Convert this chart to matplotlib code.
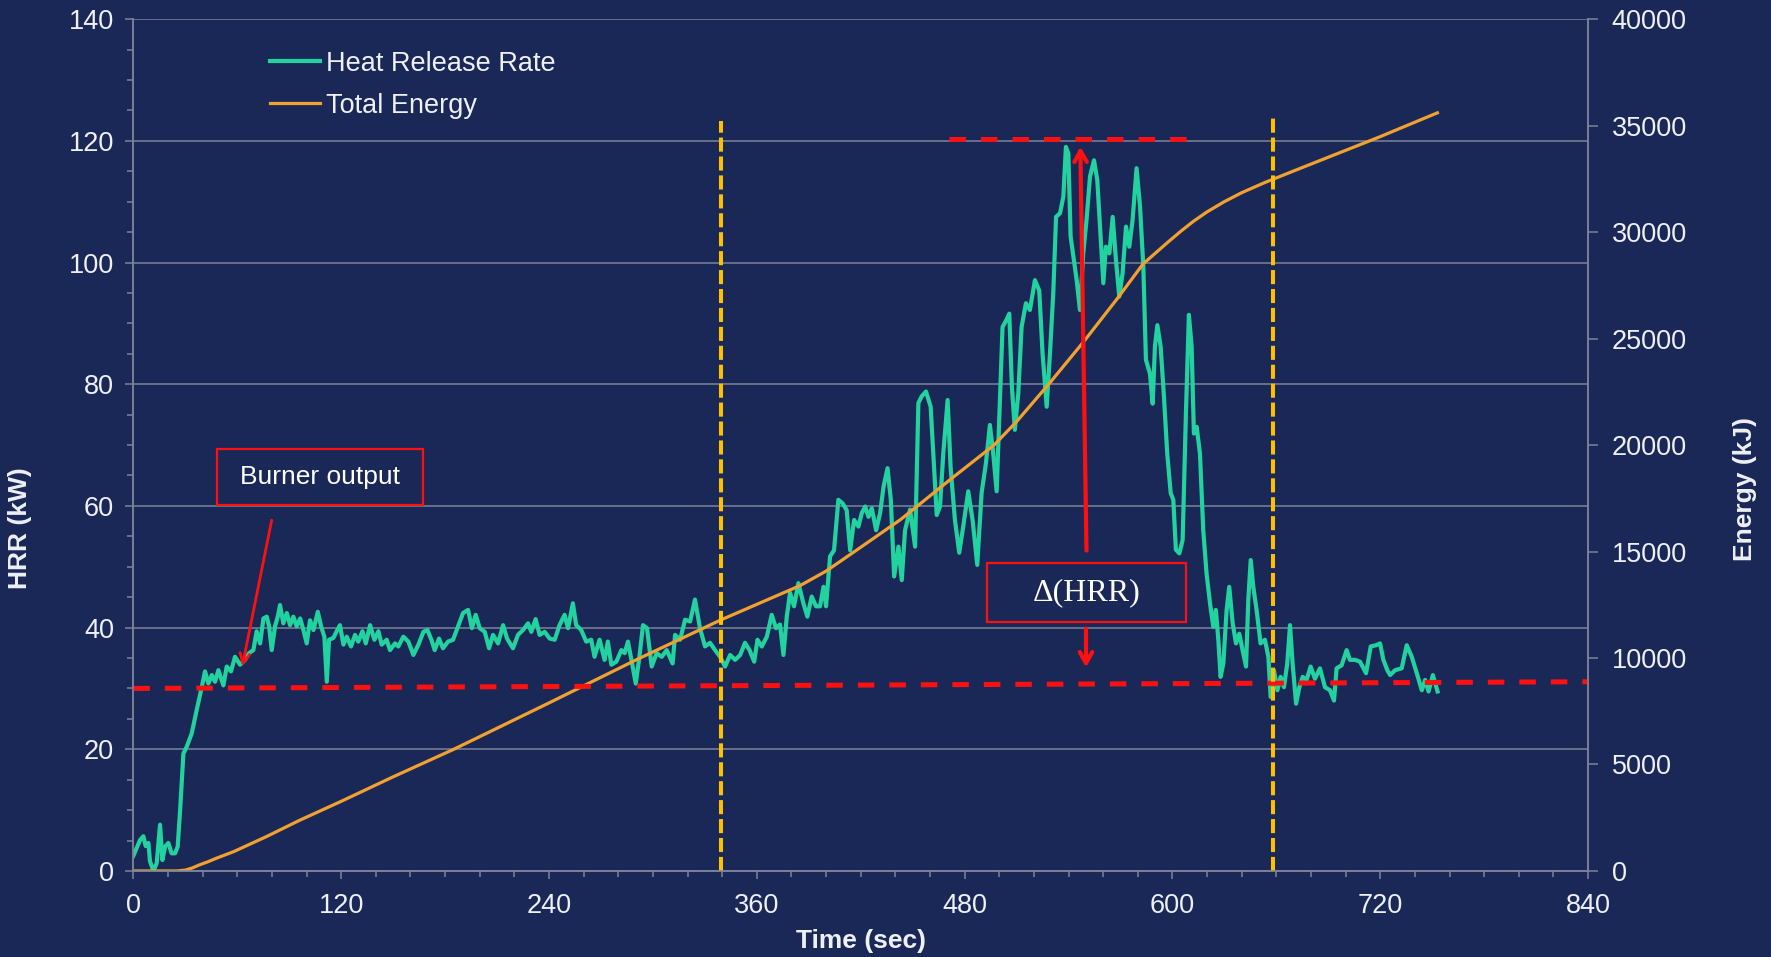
import numpy as np
import matplotlib.pyplot as plt
from matplotlib.patches import Rectangle

# ===== DATA =====

# heat release rate (kW) vs time (s)
hrr_t = [0, 3.9, 5.8, 7.1, 8.7, 9.6, 11.6, 13.5, 15.4, 16.8, 18.3, 20.2, 22.1, 24.1, 25.6,
         27.0, 28.9, 30.8, 33.7, 36.6, 39.1, 41.4, 43.3, 45.3, 47.2, 49.1, 52.0, 53.9, 56.4,
         58.7, 61.6, 64.5, 66.8, 69.3, 71.2, 73.2, 75.1, 77.0, 78.4, 79.9, 81.8, 83.4, 84.7,
         86.6, 88.6, 90.5, 92.4, 94.3, 96.3, 98.2, 100.1, 102.0, 104.0, 106.5, 108.4, 110.3,
         111.7, 113.0, 115.5, 117.4, 119.3, 121.3, 123.2, 125.7, 128.0, 129.9, 132.3, 134.2,
         136.7, 139.2, 141.5, 143.4, 146.3, 148.2, 151.1, 153.0, 155.9, 158.8, 161.7, 164.6,
         167.5, 169.8, 172.1, 174.0, 176.5, 178.8, 181.7, 184.6, 187.5, 190.4, 193.3, 195.5,
         197.7, 200.0, 202.9, 205.4, 207.7, 210.6, 213.5, 215.8, 219.2, 222.1, 225.0, 227.9,
         229.8, 232.3, 234.6, 237.5, 240.4, 243.3, 246.1, 249.0, 251.0, 253.8, 255.7, 258.6,
         261.5, 264.4, 266.3, 269.2, 272.1, 274.0, 276.0, 278.9, 281.8, 283.7, 285.6, 287.6,
         290.1, 292.0, 294.3, 296.6, 299.3, 302.2, 305.1, 308.0, 311.4, 312.8, 315.7, 318.6,
         321.5, 324.3, 327.2, 330.1, 333.0, 335.9, 338.8, 341.7, 344.6, 347.5, 350.4, 353.2,
         355.8, 358.5, 360.4, 362.9, 365.8, 368.6, 371.1, 373.4, 375.4, 377.3, 379.2, 381.5,
         384.0, 386.9, 389.2, 391.7, 394.2, 396.5, 398.5, 400.0, 402.3, 404.6, 407.1, 409.6,
         411.9, 413.9, 416.2, 418.7, 420.6, 422.6, 424.5, 426.4, 428.9, 431.2, 433.2, 435.5,
         437.4, 439.3, 441.8, 443.7, 445.6, 448.5, 451.4, 453.3, 455.2, 457.7, 460.4, 461.9,
         463.9, 465.8, 467.7, 470.2, 471.9, 474.4, 476.9, 479.2, 482.1, 484.6, 487.3, 489.8,
         492.3, 494.6, 496.5, 498.5, 500.0, 501.9, 504.2, 505.8, 507.3, 509.0, 511.0, 512.9,
         515.4, 517.7, 520.6, 523.1, 525.0, 527.4, 529.3, 531.2, 532.8, 535.1, 537.0, 538.5,
         539.9, 541.2, 543.1, 544.7, 546.6, 548.5, 550.4, 552.4, 554.7, 556.6, 558.2, 560.1,
         561.6, 563.6, 565.5, 567.4, 569.3, 571.2, 573.2, 575.1, 577.0, 579.3, 581.3, 583.2,
         584.7, 587.0, 588.6, 589.9, 591.3, 593.2, 595.1, 597.0, 599.0, 600.5, 602.0, 604.0,
         605.9, 607.8, 609.5, 611.1, 612.4, 614.0, 615.9, 617.8, 619.7, 621.7, 623.6, 625.1,
         626.5, 627.8, 629.4, 631.3, 632.8, 634.8, 636.7, 638.6, 640.5, 642.5, 643.8, 645.2,
         646.7, 648.6, 650.9, 653.4, 655.4, 656.7, 658.6, 660.6, 662.5, 664.4, 666.3, 667.9,
         669.4, 671.4, 673.3, 675.2, 677.5, 679.8, 682.3, 685.2, 688.1, 691.0, 693.3, 694.8,
         697.7, 700.6, 702.5, 705.4, 708.3, 711.8, 714.5, 717.6, 719.9, 721.8, 724.1, 725.7,
         728.6, 732.4, 735.3, 738.2, 741.1, 744.0, 745.9, 747.9, 750.4, 753.1]
hrr_kw = [2.5, 5.1, 5.7, 4.1, 4.6, 1.6, 0.0, 1.3, 7.6, 1.8, 4.0, 4.6, 2.9, 2.9, 4.0,
          10.0, 19.3, 20.4, 22.6, 26.5, 29.7, 32.8, 30.8, 32.2, 31.1, 33.0, 30.5, 33.6, 32.8,
          35.2, 33.9, 34.7, 35.8, 36.3, 39.4, 37.4, 41.5, 41.8, 40.2, 36.3, 40.2, 41.8, 43.7,
          40.7, 42.4, 40.4, 41.8, 40.2, 41.5, 39.6, 37.4, 41.2, 39.6, 42.6, 40.2, 38.5,
          31.1, 38.0, 38.3, 39.4, 40.4, 37.2, 38.5, 36.9, 38.8, 37.7, 39.4, 37.4,
          40.4, 38.0, 39.4, 37.2, 38.0, 36.3, 37.4, 36.9, 38.5, 37.7, 35.5, 37.2,
          39.3, 39.6, 38.0, 36.3, 38.2, 36.6, 37.7, 38.0, 40.2, 42.4, 42.9, 39.9,
          42.1, 39.9, 39.3, 36.6, 38.8, 37.4, 40.4, 38.2, 36.6, 38.8, 39.6, 40.7,
          39.3, 41.4, 38.8, 39.3, 38.2, 38.0, 40.4, 42.1, 39.9, 44.0, 40.4, 39.6,
          37.7, 38.0, 35.2, 38.0, 34.7, 37.7, 33.9, 34.4, 36.3, 35.8, 37.7, 34.7,
          30.8, 34.7, 40.4, 39.9, 33.6, 35.8, 35.2, 36.3, 34.1, 38.8, 38.0, 41.3,
          41.0, 44.6, 39.9, 36.9, 37.5, 36.3, 35.2, 33.6, 35.5, 34.7, 35.5, 37.5,
          36.3, 34.4, 38.0, 36.9, 38.5, 42.1, 39.9, 40.5, 35.5, 41.8, 45.7, 43.5,
          47.3, 44.0, 41.8, 45.1, 43.5, 43.5, 46.7, 43.5, 51.7, 52.7, 61.0, 60.4,
          59.3, 52.7, 57.7, 56.6, 58.8, 59.9, 58.2, 59.6, 56.0, 58.8, 63.2, 66.2,
          61.0, 48.4, 53.3, 47.8, 56.0, 59.4, 53.3, 76.9, 78.0, 78.8, 76.3, 68.7,
          58.5, 59.9, 68.7, 77.4, 66.4, 57.7, 52.3, 56.6, 62.4, 57.7, 50.3, 62.1,
          67.0, 73.3, 68.7, 62.4, 74.2, 89.4, 90.6, 91.6, 79.6, 72.5, 78.5, 89.4,
          93.3, 92.2, 97.1, 95.4, 85.1, 76.3, 85.1, 95.0, 107.5, 108.1, 110.8, 119.0,
          117.9, 104.3, 100.4, 97.1, 92.2, 101.5, 107.0, 114.1, 116.8, 113.6, 105.9, 96.6,
          102.6, 101.5, 107.5, 100.4, 94.4, 98.2, 105.9, 102.6, 107.0, 115.5, 109.2, 99.3,
          84.0, 81.8, 76.8, 86.2, 89.7, 86.2, 78.0, 68.6, 62.1, 61.0, 52.8, 52.2,
          54.4, 75.3, 91.4, 86.2, 71.9, 73.0, 68.6, 56.0, 48.9, 44.0, 40.1, 42.9,
          38.0, 31.9, 34.1, 42.9, 46.7, 40.7, 37.4, 39.0, 36.3, 33.6, 44.5, 51.1,
          46.7, 42.9, 37.4, 38.0, 35.2, 28.6, 33.0, 29.7, 31.9, 30.2, 34.1, 40.4,
          34.1, 27.5, 30.2, 31.9, 31.4, 33.6, 31.6, 33.3, 30.2, 29.7, 28.0, 33.3,
          33.8, 36.3, 34.7, 34.7, 34.4, 32.5, 36.9, 37.1, 37.4, 34.7, 33.0, 32.2,
          33.0, 33.3, 37.1, 35.2, 32.5, 29.7, 31.4, 29.5, 32.2, 29.5]

# cumulative energy (kJ) vs time (s)
energy_t = [0, 25, 30, 34, 38, 43, 48, 58, 77, 96, 120, 150, 185, 240, 290, 339, 385, 400,
            420, 443, 472, 497, 510, 529, 549, 568, 583, 597, 605, 612, 620, 630, 640, 654,
            674, 719, 753]
energy_kj = [0, 0, 40, 140, 280, 430, 600, 910, 1620, 2380, 3270, 4420, 5714, 7890, 9900,
             11780, 13400, 14080, 15200, 16500, 18400, 20000, 21100, 22900, 24880, 26860,
             28500, 29500, 30050, 30500, 30950, 31430, 31850, 32350, 33000, 34450, 35600]

# reference markers
burner_t = [0, 840]
burner_kw = [30.0, 31.1]
peak_t = [471, 614]
peak_kw = 120.3
phase_t = [339.5, 658]
phase_top = [123.3, 124.4]

# ===== STYLE =====

bg = '#1a2858'
grid_c = '#7d8399'
text_c = '#eef0f5'
green = '#22d3a0'
orange = '#f2a12e'
red = '#ff1010'
gold = '#ffc000'

plt.rcParams['font.family'] = ['Liberation Sans', 'DejaVu Sans']

fig = plt.figure(figsize=(17.71, 9.57), dpi=100)
fig.patch.set_facecolor(bg)
ax = fig.add_axes([0.0753, 0.0899, 0.8214, 0.8901])
ax.set_facecolor(bg)
ax2 = ax.twinx()

# HRR
ax.plot(hrr_t, hrr_kw, color=green, lw=3.0, solid_joinstyle='round', label='Heat Release Rate')
ax.set_xlim(0, 840)
ax.set_ylim(0, 140)
ax.set_xticks(np.arange(0, 841, 120))
ax.set_xticks(np.arange(0, 841, 20), minor=True)
ax.set_yticks(np.arange(0, 141, 20))
ax.set_yticks(np.arange(0, 141, 5), minor=True)
ax.grid(axis='y', color=grid_c, lw=1.1)
ax.set_axisbelow(True)

# energy
ax2.plot(energy_t, energy_kj, color=orange, lw=2.3, label='Total Energy')
ax2.set_ylim(0, 40000)
ax2.set_yticks(np.arange(0, 40001, 5000))

for a in (ax, ax2):
    for s in a.spines.values():
        s.set_color(grid_c)
        s.set_linewidth(1.1)
    a.spines['top'].set_visible(False)
    a.tick_params(which='both', colors=grid_c, labelcolor=text_c, labelsize=19.5, width=1.1)
    a.tick_params(which='major', length=6)
    a.tick_params(which='minor', length=4)
ax.tick_params(axis='y', pad=8)
ax.tick_params(axis='x', pad=10)
ax2.tick_params(axis='y', length=7, pad=10)

fig.text(0.0113, 0.448, 'HRR (kW)', rotation=90, ha='center', va='center',
         color=text_c, fontsize=19, fontweight='bold')
fig.text(0.486, 0.0167, 'Time (sec)', ha='center', va='center',
         color=text_c, fontsize=19, fontweight='bold')
fig.text(0.9853, 0.489, 'Energy (kJ)', rotation=90, ha='center', va='center',
         color=text_c, fontsize=19, fontweight='bold')

# annotations drawn in HRR coordinates, above both curves
tr = ax.transData
ax2.plot(burner_t, burner_kw, transform=tr, color=red, lw=3.6, ls=(0, (3.3, 3.0)))
ax2.plot(peak_t, [peak_kw, peak_kw], transform=tr, color=red, lw=3.6, ls=(0, (3.3, 3.0)))
for t, top in zip(phase_t, phase_top):
    ax2.plot([t, t], [0, top], transform=tr, color=gold, lw=2.9, ls=(0, (3.5, 1.2)))

ax2.add_patch(Rectangle((48.3, 60.2), 118.7, 9.2, transform=tr, fill=False,
                        edgecolor=red, lw=1.6))
ax2.text(107.6, 64.8, 'Burner output', transform=tr, ha='center', va='center',
         color='white', fontsize=19)
ax2.annotate('', xy=(62.6, 33.2), xytext=(80.2, 58.1), xycoords=tr, textcoords=tr,
             arrowprops=dict(arrowstyle='->,head_length=0.7,head_width=0.35', color=red, lw=2))

ax2.add_patch(Rectangle((493.1, 41.0), 114.8, 9.6, transform=tr, fill=False,
                        edgecolor=red, lw=1.6))
ax2.text(550.5, 45.8, 'Δ(HRR)', transform=tr, ha='center', va='center',
         color='white', fontsize=23, family=['Liberation Serif', 'DejaVu Serif'])
ax2.annotate('', xy=(546.8, 119.5), xytext=(550.4, 52.2), xycoords=tr, textcoords=tr,
             arrowprops=dict(arrowstyle='->,head_length=0.8,head_width=0.45', color=red, lw=3))
ax2.annotate('', xy=(550.1, 33.0), xytext=(550.1, 40.3), xycoords=tr, textcoords=tr,
             arrowprops=dict(arrowstyle='->,head_length=0.8,head_width=0.45', color=red, lw=3))

h1, l1 = ax.get_legend_handles_labels()
h2, l2 = ax2.get_legend_handles_labels()
leg = ax2.legend(h1 + h2, l1 + l2, loc='upper left', bbox_to_anchor=(0.094, 0.963),
                 frameon=False, fontsize=19.5, handlelength=1.85, handletextpad=0.2,
                 labelspacing=0.6, borderaxespad=0, borderpad=0)
for txt in leg.get_texts():
    txt.set_color(text_c)

fig.savefig('out.png', dpi=100, facecolor=bg)
